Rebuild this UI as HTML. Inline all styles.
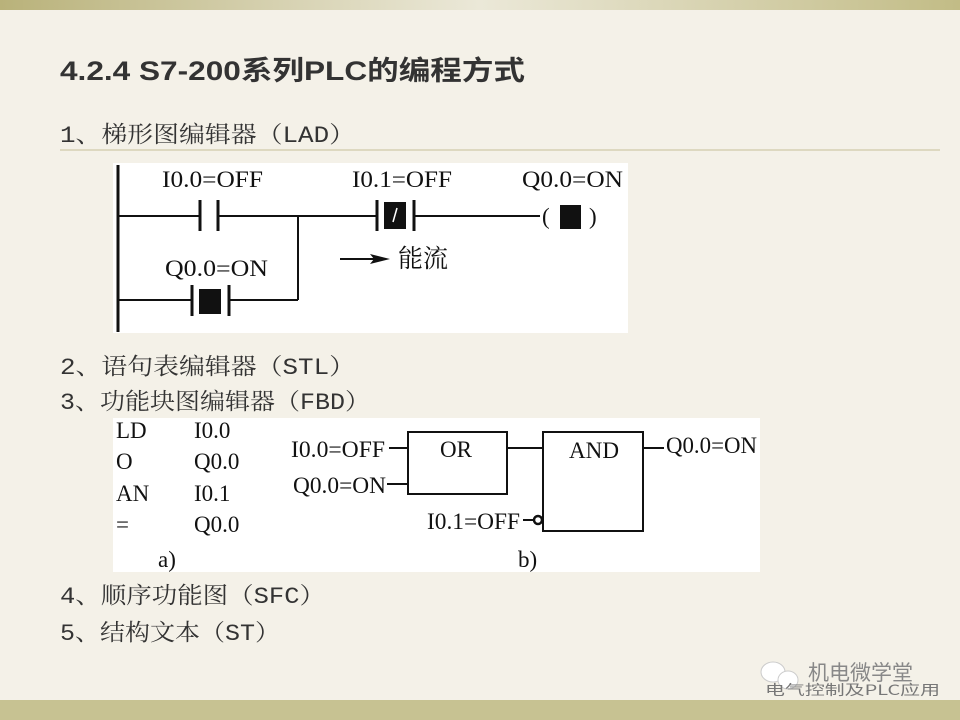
<!DOCTYPE html>
<html><head><meta charset="utf-8"><style>
body{margin:0;width:960px;height:720px;overflow:hidden;background:#f4f1e8;}
svg{display:block}
.s{font-family:"Liberation Serif","Noto Serif CJK SC",serif;font-size:23px;fill:#111}
.c{font-family:"Liberation Mono","Noto Serif CJK SC",serif;font-size:23px;fill:#333}
</style></head><body>
<svg width="960" height="720" viewBox="0 0 960 720" xmlns="http://www.w3.org/2000/svg">
<defs>
<linearGradient id="tb" x1="0" x2="1"><stop offset="0" stop-color="#b9b27a"/><stop offset="0.5" stop-color="#ebe8d8"/><stop offset="1" stop-color="#c2bc86"/></linearGradient>
</defs>
<rect width="960" height="720" fill="#f4f1e8"/>
<rect width="960" height="10" fill="url(#tb)"/>
<rect y="700" width="960" height="20" fill="#c7c292"/>
<line x1="60" y1="150" x2="940" y2="150" stroke="#ddd8c0" stroke-width="2"/>
<text x="60" y="80" font-family="Liberation Sans,'Noto Sans CJK SC',sans-serif" font-size="27" font-weight="bold" fill="#333" textLength="465" lengthAdjust="spacingAndGlyphs">4.2.4 S7-200系列PLC的编程方式</text>
<text class="c" x="60" y="142" textLength="295" lengthAdjust="spacingAndGlyphs">1、梯形图编辑器（LAD）</text>
<text class="c" x="60" y="374" textLength="295" lengthAdjust="spacingAndGlyphs">2、语句表编辑器（STL）</text>
<text class="c" x="60" y="409" textLength="310" lengthAdjust="spacingAndGlyphs">3、功能块图编辑器（FBD）</text>
<text class="c" x="60" y="603" textLength="265" lengthAdjust="spacingAndGlyphs">4、顺序功能图（SFC）</text>
<text class="c" x="60" y="640" textLength="220" lengthAdjust="spacingAndGlyphs">5、结构文本（ST）</text>

<!-- LAD -->
<rect x="113" y="163" width="515" height="170" fill="#fff"/>
<g stroke="#111" stroke-width="2" fill="none">
<line x1="118" y1="165" x2="118" y2="332" stroke-width="3"/>
<line x1="118" y1="216" x2="200" y2="216"/>
<line x1="200" y1="200" x2="200" y2="231" stroke-width="3"/>
<line x1="218" y1="200" x2="218" y2="231" stroke-width="3"/>
<line x1="218" y1="216" x2="377" y2="216"/>
<line x1="298" y1="216" x2="298" y2="300"/>
<line x1="118" y1="300" x2="192" y2="300"/>
<line x1="192" y1="285" x2="192" y2="316" stroke-width="3"/>
<line x1="229" y1="285" x2="229" y2="316" stroke-width="3"/>
<line x1="229" y1="300" x2="298" y2="300"/>
<line x1="377" y1="200" x2="377" y2="231" stroke-width="3"/>
<line x1="414" y1="200" x2="414" y2="231" stroke-width="3"/>
<line x1="414" y1="216" x2="540" y2="216"/>
<line x1="340" y1="259" x2="375" y2="259"/>
</g>
<rect x="199" y="289" width="22" height="25" fill="#111"/>
<rect x="384" y="202" width="22" height="27" fill="#111"/>
<line x1="393" y1="222" x2="397" y2="208" stroke="#fff" stroke-width="1.5"/>
<rect x="560" y="205" width="21" height="24" fill="#111"/>
<polygon points="390,259 370,254 374,259 370,264" fill="#111"/>
<text class="s" x="542" y="224">(</text>
<text class="s" x="589" y="224">)</text>
<text class="s" x="162" y="187" textLength="101" lengthAdjust="spacingAndGlyphs">I0.0=OFF</text>
<text class="s" x="352" y="187" textLength="100" lengthAdjust="spacingAndGlyphs">I0.1=OFF</text>
<text class="s" x="522" y="187" textLength="101" lengthAdjust="spacingAndGlyphs">Q0.0=ON</text>
<text class="s" x="165" y="276" textLength="103" lengthAdjust="spacingAndGlyphs">Q0.0=ON</text>
<text x="398" y="267" font-family="'Noto Serif CJK SC',serif" font-size="25" fill="#111">能流</text>

<!-- STL/FBD -->
<rect x="113" y="418" width="647" height="154" fill="#fff"/>
<text class="s" x="116" y="438">LD</text><text class="s" x="194" y="438">I0.0</text>
<text class="s" x="116" y="469">O</text><text class="s" x="194" y="469">Q0.0</text>
<text class="s" x="116" y="501">AN</text><text class="s" x="194" y="501">I0.1</text>
<text class="s" x="116" y="532">=</text><text class="s" x="194" y="532">Q0.0</text>
<text class="s" x="158" y="567">a)</text>
<text class="s" x="518" y="567">b)</text>
<g stroke="#111" stroke-width="2" fill="none">
<rect x="408" y="432" width="99" height="62"/>
<rect x="543" y="432" width="100" height="99"/>
<line x1="389" y1="448" x2="408" y2="448"/>
<line x1="387" y1="484" x2="408" y2="484"/>
<line x1="507" y1="448" x2="543" y2="448"/>
<line x1="643" y1="448" x2="664" y2="448"/>
<line x1="523" y1="520" x2="533" y2="520"/>
<circle cx="538" cy="520" r="4" stroke-width="2.5"/>
</g>
<text class="s" x="291" y="457" textLength="94" lengthAdjust="spacingAndGlyphs">I0.0=OFF</text>
<text class="s" x="293" y="493" textLength="93" lengthAdjust="spacingAndGlyphs">Q0.0=ON</text>
<text class="s" x="427" y="529" textLength="93" lengthAdjust="spacingAndGlyphs">I0.1=OFF</text>
<text class="s" x="440" y="457">OR</text>
<text class="s" x="569" y="458" textLength="50" lengthAdjust="spacingAndGlyphs">AND</text>
<text class="s" x="666" y="453" textLength="91" lengthAdjust="spacingAndGlyphs">Q0.0=ON</text>

<!-- watermark -->
<ellipse cx="773" cy="672" rx="12" ry="10" fill="#fff" stroke="#ccc"/>
<ellipse cx="788" cy="680" rx="10" ry="9" fill="#fff" stroke="#ccc"/>
<text x="808" y="680" font-family="'Noto Sans CJK SC',sans-serif" font-size="21" fill="#888">机电微学堂</text>
<text x="765" y="695" font-family="'Noto Sans CJK SC',sans-serif" font-size="14" fill="#777" textLength="175" lengthAdjust="spacingAndGlyphs">电气控制及PLC应用</text>
</svg>
</body></html>
